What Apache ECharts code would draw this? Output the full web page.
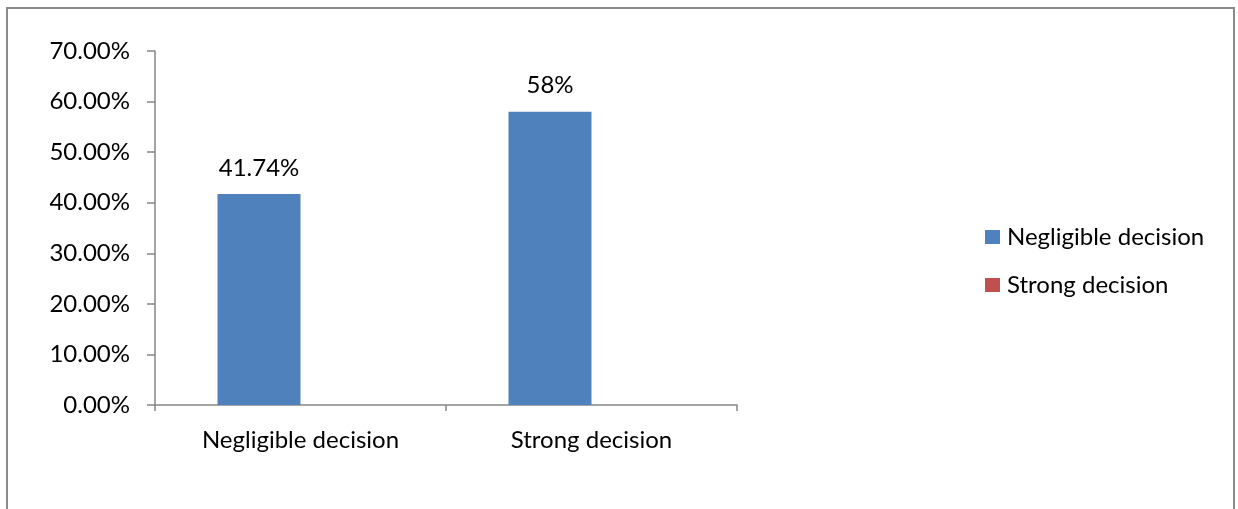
<!DOCTYPE html>
<html>
<head>
<meta charset="utf-8">
<script src="https://cdn.jsdelivr.net/npm/echarts@6/dist/echarts.min.js"></script>
<style>
html,body{margin:0;padding:0;background:#fff;}
#chart{width:1238px;height:509px;}
</style>
</head>
<body>
<div id="chart"></div>
<script>
const categories = ['Negligible decision', 'Strong decision'];
const seriesNames = ['Negligible decision', 'Strong decision'];
const negligibleValues = [41.74, 58];
const strongValues = [null, null];
const valueLabels = ['41.74%', '58%'];
const yTicks = [0, 10, 20, 30, 40, 50, 60, 70];

const font = 'Lato, "Open Sans", sans-serif';
const fs = 24;
const chart = echarts.init(document.getElementById('chart'), null, {renderer: 'canvas'});
chart.setOption({
  animation: false,
  backgroundColor: '#fff',
  graphic: [{
    type: 'rect',
    shape: {x: 7, y: 8, width: 1227, height: 620},
    style: {fill: 'none', stroke: '#8a8a8a', lineWidth: 2},
    silent: true
  }],
  grid: {left: 155, right: 501, top: 51, bottom: 104, containLabel: false},
  legend: {
    orient: 'vertical',
    left: 980,
    top: 220,
    itemWidth: 15,
    itemHeight: 14,
    itemGap: 24,
    icon: 'rect',
    textStyle: {fontFamily: font, fontSize: fs, color: '#000', padding: [0, 0, 0, 2]},
    data: seriesNames
  },
  xAxis: {
    type: 'category',
    data: categories,
    axisLine: {lineStyle: {color: '#868686', width: 1.5}},
    axisTick: {show: true, length: 6, lineStyle: {color: '#868686', width: 1.5}},
    axisLabel: {fontFamily: font, fontSize: fs, color: '#000', margin: 23}
  },
  yAxis: {
    type: 'value',
    min: 0,
    max: 70,
    interval: 10,
    splitLine: {show: false},
    axisLine: {show: true, lineStyle: {color: '#868686', width: 1.5}},
    axisTick: {show: true, length: 8, lineStyle: {color: '#868686', width: 1.5}},
    axisLabel: {
      fontFamily: font, fontSize: fs, color: '#000', margin: 25,
      formatter: v => yTicks.includes(v) ? v.toFixed(2) + '%' : ''
    }
  },
  series: [
    {
      name: seriesNames[0],
      type: 'bar',
      data: negligibleValues,
      barWidth: 83,
      barGap: '0%',
      itemStyle: {color: '#4F81BD'},
      label: {
        show: true,
        position: 'top',
        distance: 14,
        fontFamily: font, fontSize: fs, color: '#000',
        formatter: p => valueLabels[p.dataIndex]
      }
    },
    {
      name: seriesNames[1],
      type: 'bar',
      data: strongValues,
      barWidth: 83,
      barGap: '0%',
      itemStyle: {color: '#C0504D'}
    }
  ]
});
</script>
</body>
</html>
